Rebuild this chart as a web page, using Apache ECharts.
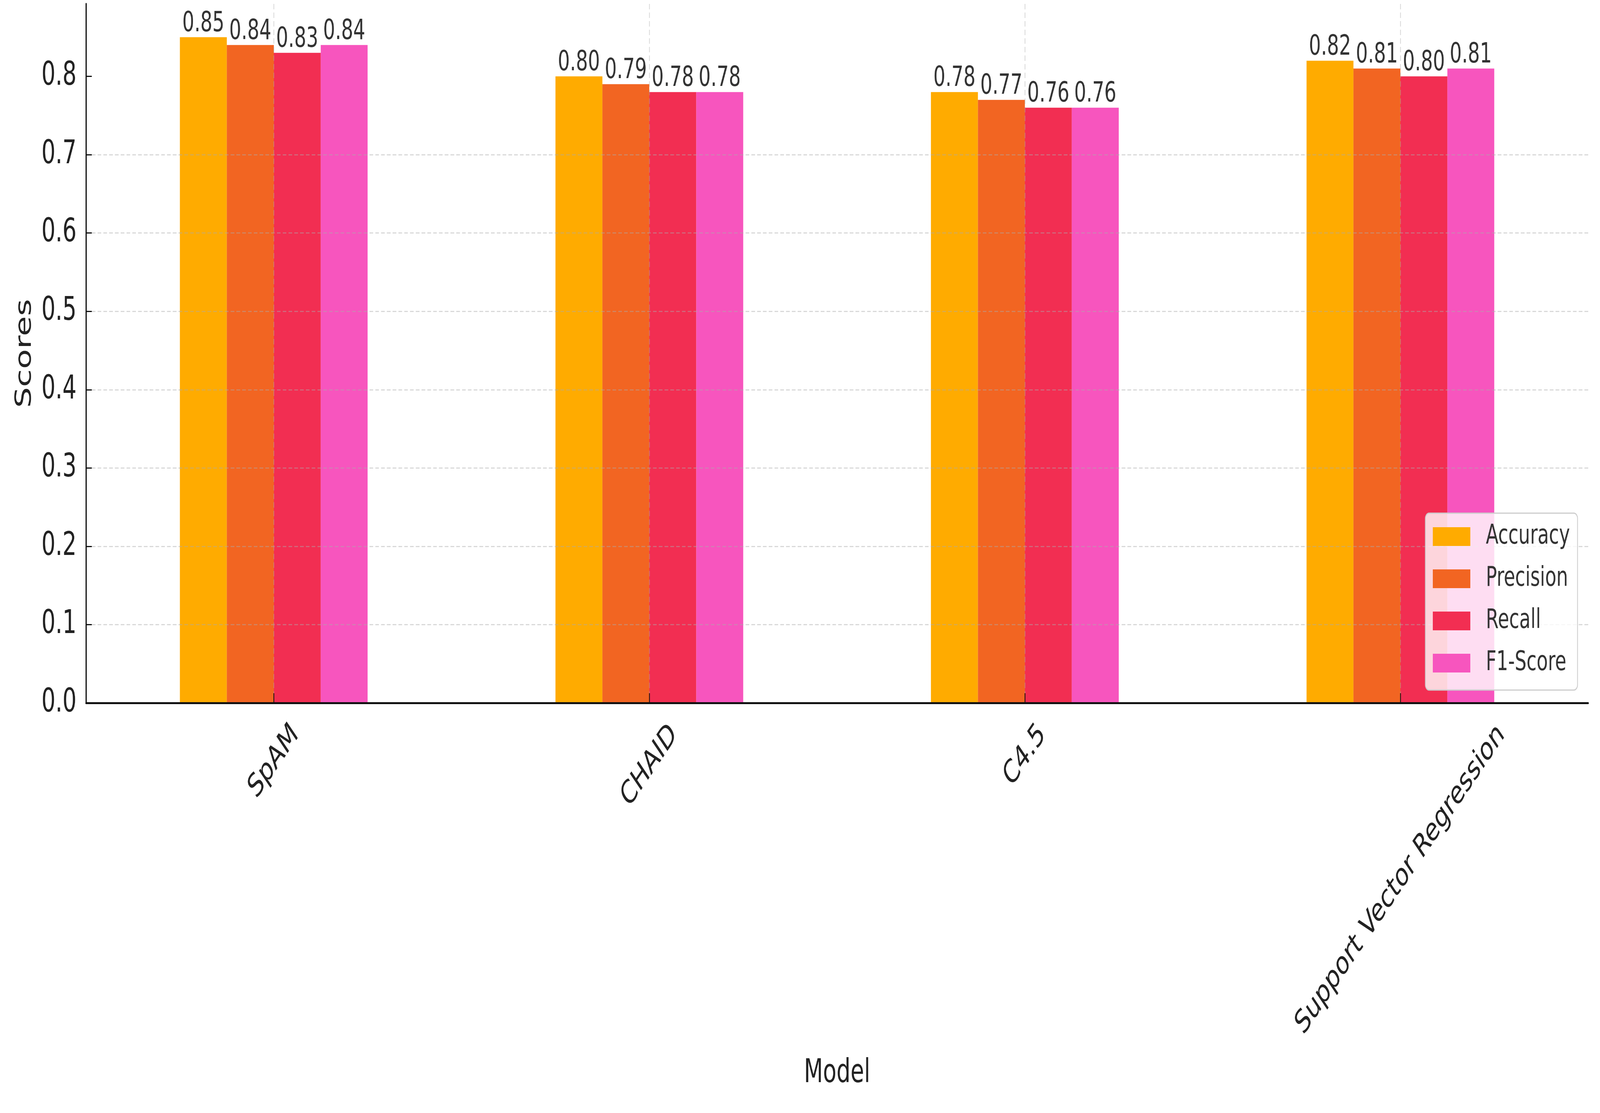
<!DOCTYPE html>
<html>
<head>
<meta charset="utf-8">
<script src="https://cdn.jsdelivr.net/npm/echarts@6/dist/echarts.min.js"></script>
<style>
html,body{margin:0;padding:0;background:#fff;overflow:hidden;}
#chart{position:absolute;left:0;top:0;width:6084px;height:2850px;transform-origin:0 0;}
</style>
</head>
<body>
<div id="chart"></div>
<script>
const categories = ['SpAM', 'CHAID', 'C4.5', 'Support Vector Regression'];
const seriesNames = ['Accuracy', 'Precision', 'Recall', 'F1-Score'];
const accuracy = [0.85, 0.80, 0.78, 0.82];
const precision = [0.84, 0.79, 0.77, 0.81];
const recall = [0.83, 0.78, 0.76, 0.80];
const f1Score = [0.84, 0.78, 0.76, 0.81];
const yTicks = [0, 0.1, 0.2, 0.3, 0.4, 0.5, 0.6, 0.7, 0.8];
const yMax = 0.8925;

const colors = ['#FFAB00', '#F26522', '#F22E52', '#F755BE'];
const FAMILY = '"DejaVu Sans", sans-serif';

const el = document.getElementById('chart');
// the chart is laid out on a 6084x2850 canvas and fitted into the actual window
const fx = window.innerWidth / 6084, fy = window.innerHeight / 2850;
el.style.transform = 'scale(' + fx + ',' + fy + ')';

const XF = 82;
const cv = document.createElement('canvas').getContext('2d');
cv.font = XF + 'px "DejaVu Sans"';
const XH = XF * 1.17, XPAD = 35;

const values = [accuracy, precision, recall, f1Score];
const gridLine = { color: 'rgba(170,170,170,0.45)', width: 3, type: [14, 8] };

const chart = echarts.init(el, null, { renderer: 'canvas', width: 6084, height: 2850, devicePixelRatio: 1 });
const barSeries = seriesNames.map(function (name, i) {
  return {
    name: name,
    type: 'bar',
    data: values[i],
    barGap: '0%',
    barCategoryGap: '50%',
    itemStyle: { color: colors[i] },
    label: {
      show: true, position: 'top', distance: -2,
      fontFamily: FAMILY, fontSize: 72, color: '#333333',
      formatter: function (p) { return p.value.toFixed(2); }
    }
  };
});

// x tick labels, rotated 45 degrees and centred under each tick (matplotlib style)
const xLabelSeries = {
  type: 'custom',
  name: 'xTickLabels',
  silent: true,
  clip: false,
  z: 5,
  data: categories.map(function (c, i) { return [i, 0]; }),
  renderItem: function (params, api) {
    const i = api.value(0);
    const pt = api.coord([i, 0]);
    const text = categories[i];
    const w = cv.measureText(text).width;
    const off = XPAD + (w + XH) * Math.SQRT1_2 / 2;
    return {
      type: 'text',
      x: pt[0],
      y: pt[1] + off,
      rotation: Math.PI / 4,
      style: {
        text: text,
        fontFamily: FAMILY,
        fontSize: XF,
        fill: '#222222',
        align: 'center',
        verticalAlign: 'middle'
      }
    };
  }
};

chart.setOption({
  animation: false,
  backgroundColor: '#ffffff',
  textStyle: { fontFamily: FAMILY },
  grid: { left: 327, right: 45, top: 10, bottom: 1050, outerBoundsMode: 'none', containLabel: false },
  legend: {
    orient: 'vertical',
    left: 5420, top: 1314,
    padding: [25, 29, 34, 28],
    itemWidth: 143, itemHeight: 48, itemGap: 38,
    icon: 'rect',
    backgroundColor: 'rgba(255,255,255,0.8)',
    borderColor: '#cccccc', borderWidth: 3, borderRadius: 14,
    textStyle: { fontFamily: FAMILY, fontSize: 70, color: '#333333', padding: [0, 0, 0, 54] },
    data: seriesNames
  },
  xAxis: {
    type: 'category',
    data: categories,
    z: 3,
    name: 'Model',
    nameLocation: 'middle',
    nameGap: 949,
    nameTextStyle: { fontFamily: FAMILY, fontSize: 84, color: '#222222', verticalAlign: 'middle' },
    axisLine: { lineStyle: { color: '#111111', width: 5 } },
    axisTick: { show: true, alignWithLabel: true, inside: true, length: 25, lineStyle: { color: '#111111', width: 3 } },
    axisLabel: { show: false },
    splitLine: { show: true, alignWithLabel: true, interval: 0, lineStyle: gridLine }
  },
  yAxis: {
    type: 'value',
    min: 0, max: yMax, interval: 0.1,
    z: 3,
    name: 'Scores',
    nameLocation: 'middle',
    nameRotate: 90,
    nameGap: 190,
    nameTextStyle: { fontFamily: FAMILY, fontSize: 84, color: '#222222' },
    axisLine: { show: true, lineStyle: { color: '#111111', width: 5 } },
    axisTick: { show: true, inside: true, length: 22, lineStyle: { color: '#111111', width: 3 }, customValues: yTicks },
    axisLabel: { margin: 36, fontFamily: FAMILY, fontSize: 84, color: '#222222', customValues: yTicks,
      formatter: function (v) { return v.toFixed(1); } },
    splitLine: { show: true, showMaxLine: false, lineStyle: gridLine }
  },
  series: barSeries.concat([xLabelSeries])
});
</script>
</body>
</html>
